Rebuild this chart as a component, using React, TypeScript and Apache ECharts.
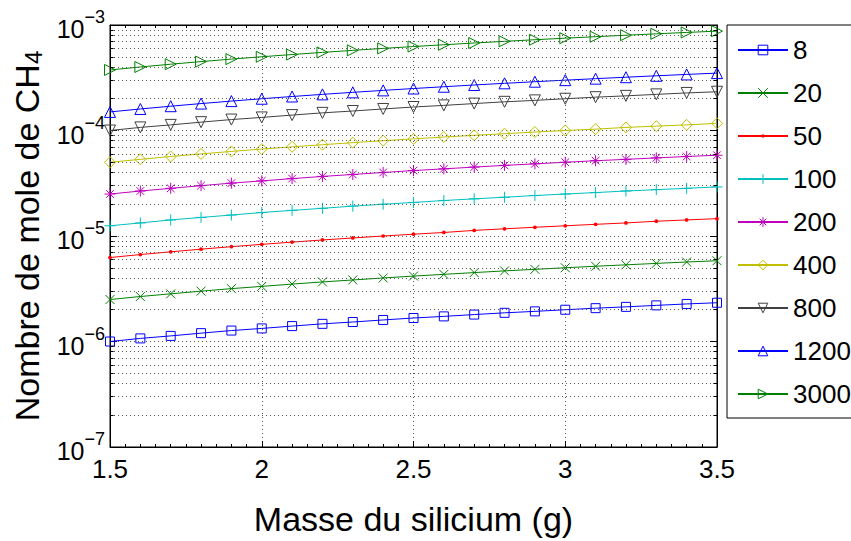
import React, { useEffect, useRef } from "react";
import * as echarts from "echarts";

// Masse du silicium (g)
const masses = [1.5, 1.6, 1.7, 1.8, 1.9, 2.0, 2.1, 2.2, 2.3, 2.4, 2.5, 2.6, 2.7, 2.8, 2.9, 3.0, 3.1, 3.2, 3.3, 3.4, 3.5];

const seriesNames = ["8", "20", "50", "100", "200", "400", "800", "1200", "3000"];

const s8 = [1.00e-6, 1.07e-6, 1.13e-6, 1.20e-6, 1.27e-6, 1.33e-6, 1.40e-6, 1.47e-6, 1.53e-6, 1.60e-6, 1.67e-6, 1.73e-6, 1.80e-6, 1.87e-6, 1.93e-6, 2.00e-6, 2.07e-6, 2.13e-6, 2.20e-6, 2.27e-6, 2.33e-6];
const s20 = [2.50e-6, 2.67e-6, 2.83e-6, 3.00e-6, 3.17e-6, 3.33e-6, 3.50e-6, 3.67e-6, 3.83e-6, 4.00e-6, 4.17e-6, 4.33e-6, 4.50e-6, 4.67e-6, 4.83e-6, 5.00e-6, 5.17e-6, 5.33e-6, 5.50e-6, 5.67e-6, 5.83e-6];
const s50 = [6.25e-6, 6.67e-6, 7.08e-6, 7.50e-6, 7.92e-6, 8.33e-6, 8.75e-6, 9.17e-6, 9.58e-6, 1.00e-5, 1.04e-5, 1.08e-5, 1.13e-5, 1.17e-5, 1.21e-5, 1.25e-5, 1.29e-5, 1.33e-5, 1.38e-5, 1.42e-5, 1.46e-5];
const s100 = [1.25e-5, 1.33e-5, 1.42e-5, 1.50e-5, 1.58e-5, 1.67e-5, 1.75e-5, 1.83e-5, 1.92e-5, 2.00e-5, 2.08e-5, 2.17e-5, 2.25e-5, 2.33e-5, 2.42e-5, 2.50e-5, 2.58e-5, 2.67e-5, 2.75e-5, 2.83e-5, 2.92e-5];
const s200 = [2.50e-5, 2.67e-5, 2.83e-5, 3.00e-5, 3.17e-5, 3.33e-5, 3.50e-5, 3.67e-5, 3.83e-5, 4.00e-5, 4.17e-5, 4.33e-5, 4.50e-5, 4.67e-5, 4.83e-5, 5.00e-5, 5.17e-5, 5.33e-5, 5.50e-5, 5.67e-5, 5.83e-5];
const s400 = [5.00e-5, 5.33e-5, 5.67e-5, 6.00e-5, 6.33e-5, 6.67e-5, 7.00e-5, 7.33e-5, 7.67e-5, 8.00e-5, 8.33e-5, 8.67e-5, 9.00e-5, 9.33e-5, 9.67e-5, 1.00e-4, 1.03e-4, 1.07e-4, 1.10e-4, 1.13e-4, 1.17e-4];
const s800 = [1.00e-4, 1.07e-4, 1.13e-4, 1.20e-4, 1.27e-4, 1.33e-4, 1.40e-4, 1.47e-4, 1.53e-4, 1.60e-4, 1.67e-4, 1.73e-4, 1.80e-4, 1.87e-4, 1.93e-4, 2.00e-4, 2.07e-4, 2.13e-4, 2.20e-4, 2.27e-4, 2.33e-4];
const s1200 = [1.50e-4, 1.60e-4, 1.70e-4, 1.80e-4, 1.90e-4, 2.00e-4, 2.10e-4, 2.20e-4, 2.30e-4, 2.40e-4, 2.50e-4, 2.60e-4, 2.70e-4, 2.80e-4, 2.90e-4, 3.00e-4, 3.10e-4, 3.20e-4, 3.30e-4, 3.40e-4, 3.50e-4];
const s3000 = [3.75e-4, 4.00e-4, 4.25e-4, 4.50e-4, 4.75e-4, 5.00e-4, 5.25e-4, 5.50e-4, 5.75e-4, 6.00e-4, 6.25e-4, 6.50e-4, 6.75e-4, 7.00e-4, 7.25e-4, 7.50e-4, 7.75e-4, 8.00e-4, 8.25e-4, 8.50e-4, 8.75e-4];

const seriesValues = [s8, s20, s50, s100, s200, s400, s800, s1200, s3000];

const xTicks = { min: 1.5, max: 3.5, interval: 0.5 };
const yRange = { min: 1e-7, max: 1e-3 };

const colors = ["#0000ff", "#008000", "#ff0000", "#00bfbf", "#bf00bf", "#bfbf00", "#404040", "#0000ff", "#008000"];
const DOT = "path://M0,0L0,0M10,10L10,10M3.3,5A1.7,1.7,0,1,1,6.7,5A1.7,1.7,0,1,1,3.3,5Z";
const symbols = [
  "path://M0,0L10,0L10,10L0,10Z",
  "path://M0,0L10,10M10,0L0,10",
  DOT,
  "path://M5,0L5,10M0,5L10,5",
  "path://M5,0L5,10M0,5L10,5M1.5,1.5L8.5,8.5M8.5,1.5L1.5,8.5",
  "path://M5,0L10,5L5,10L0,5Z",
  "path://M0,0L10,0L5,9Z",
  "path://M5,0L10,9L0,9Z",
  "path://M0,0L9,5L0,10Z",
];
const symbolSizes = [9, 9, 11, 11, 11, 11, 11, 11, 11];

const FONT = "'Liberation Sans', Arial, Helvetica, sans-serif";

export default function App() {
  const ref = useRef<HTMLDivElement>(null);
  useEffect(() => {
    if (!ref.current) return;
    const chart = echarts.init(ref.current, undefined, { renderer: "svg" });

    // minor log grid positions (2..9 × each decade)
    const minorVals: number[] = [];
    for (let d = -7; d < -3; d++) for (let k = 2; k <= 9; k++) minorVals.push(k * Math.pow(10, d));

    const gridMarkLine = {
      silent: true,
      precision: 12,
      symbol: ["none", "none"],
      label: { show: false },
      lineStyle: { type: [1, 3], color: "#555", width: 1 },
      emphasis: { disabled: true },
      data: minorVals.map((v) => ({ yAxis: v })),
    };
    const tickMarkLine = {
      silent: true,
      precision: 12,
      symbol: ["none", "none"],
      label: { show: false },
      lineStyle: { type: "solid", color: "#000", width: 1 },
      emphasis: { disabled: true },
      data: [
        ...minorVals.map((v) => [{ coord: [1.5, v] }, { coord: [1.512, v] }]),
        ...minorVals.map((v) => [{ coord: [3.488, v] }, { coord: [3.5, v] }]),
      ],
    };

    const isDot = (i: number) => symbols[i] === DOT;

    const dataSeries = seriesNames.map((name, i) => {
      const s: any = {
        name,
        type: "line",
        z: 3,
        data: masses.map((m, j) => [m, seriesValues[i][j]]),
        symbol: symbols[i],
        symbolSize: symbolSizes[i],
        showSymbol: true,
        lineStyle: { color: colors[i], width: 1 },
        itemStyle: isDot(i)
          ? { color: colors[i], borderWidth: 0 }
          : { color: "none", borderColor: colors[i], borderWidth: 1 },
        emphasis: { disabled: true },
      };
      if (i === 0) s.markLine = gridMarkLine;
      if (i === 1) s.markLine = tickMarkLine;
      return s;
    });

    const option = {
      animation: false,
      backgroundColor: "#fff",
      textStyle: { fontFamily: FONT, color: "#000" },
      grid: { left: 110, right: 134, top: 25, bottom: 94, show: true, borderColor: "#000", borderWidth: 1, backgroundColor: "transparent" },
      legend: {
        data: seriesNames.map((name, i) => ({
          name,
          itemStyle: isDot(i)
            ? { color: colors[i], borderWidth: 0 }
            : { color: "none", borderColor: colors[i], borderWidth: 1 },
        })),
        orient: "vertical",
        left: 727,
        top: 25,
        padding: [10, 80, 9, 10],
        itemGap: 13,
        itemWidth: 50,
        itemHeight: 12,
        borderColor: "#000",
        borderWidth: 1,
        backgroundColor: "#fff",
        selectedMode: false,
        textStyle: { fontSize: 26, lineHeight: 30, color: "#000", fontFamily: FONT },
      },
      xAxis: [
        {
          type: "value",
          min: xTicks.min,
          max: xTicks.max,
          interval: xTicks.interval,
          name: "Masse du silicium (g)",
          nameLocation: "middle",
          nameGap: 55,
          nameTextStyle: { fontSize: 34, color: "#000", fontFamily: FONT },
          axisLine: { show: true, lineStyle: { color: "#000", width: 1 } },
          axisTick: { show: true, inside: true, length: 6, lineStyle: { color: "#000" } },
          minorTick: { show: true, splitNumber: 10, length: 3, lineStyle: { color: "#000" } },
          axisLabel: { fontSize: 26, color: "#000", margin: 9, fontFamily: FONT },
          splitLine: { show: true, lineStyle: { type: [1, 3], color: "#555", width: 1 } },
        },
        {
          type: "value",
          position: "top",
          min: xTicks.min,
          max: xTicks.max,
          interval: xTicks.interval,
          axisLine: { show: true, lineStyle: { color: "#000" } },
          axisTick: { show: true, inside: true, length: 6, lineStyle: { color: "#000" } },
          minorTick: { show: true, splitNumber: 10, length: 3, lineStyle: { color: "#000" } },
          axisLabel: { show: false },
          splitLine: { show: false },
        },
      ],
      yAxis: [
        {
          type: "log",
          logBase: 10,
          min: yRange.min,
          max: yRange.max,
          name: "{a|Nombre de mole de CH}{s|4}",
          nameLocation: "middle",
          nameRotate: 90,
          nameGap: 64,
          nameTextStyle: {
            color: "#000",
            rich: {
              a: { fontSize: 34, fontFamily: FONT, color: "#000" },
              s: { fontSize: 24, fontFamily: FONT, color: "#000", padding: [14, 0, 0, 0] },
            },
          },
          axisLine: { show: true, lineStyle: { color: "#000", width: 1 } },
          axisTick: { show: true, inside: true, length: 7, lineStyle: { color: "#000" } },
          axisLabel: {
            margin: 5,
            color: "#000",
            formatter: (v: number) => {
              const e = Math.round(Math.log10(v));
              const s = String(e).replace("-", "\u2212");
              return `{b|10}{e|${s}}`;
            },
            rich: {
              b: { fontSize: 25, fontFamily: FONT, color: "#000", padding: [8, 0, 0, 0] },
              e: { fontSize: 18, fontFamily: FONT, color: "#000", padding: [0, 0, 16, 0] },
            },
          },
          splitLine: { show: true, lineStyle: { type: [1, 3], color: "#555", width: 1 } },
        },
        {
          type: "log",
          logBase: 10,
          min: yRange.min,
          max: yRange.max,
          position: "right",
          axisLine: { show: true, lineStyle: { color: "#000" } },
          axisTick: { show: true, inside: true, length: 7, lineStyle: { color: "#000" } },
          axisLabel: { show: false },
          splitLine: { show: false },
        },
      ],
      series: dataSeries,
    };

    chart.setOption(option as any);
    return () => chart.dispose();
  }, []);

  return <div ref={ref} style={{ position: "fixed", left: 0, top: 0, width: 851, height: 541, background: "#fff" }} />;
}
